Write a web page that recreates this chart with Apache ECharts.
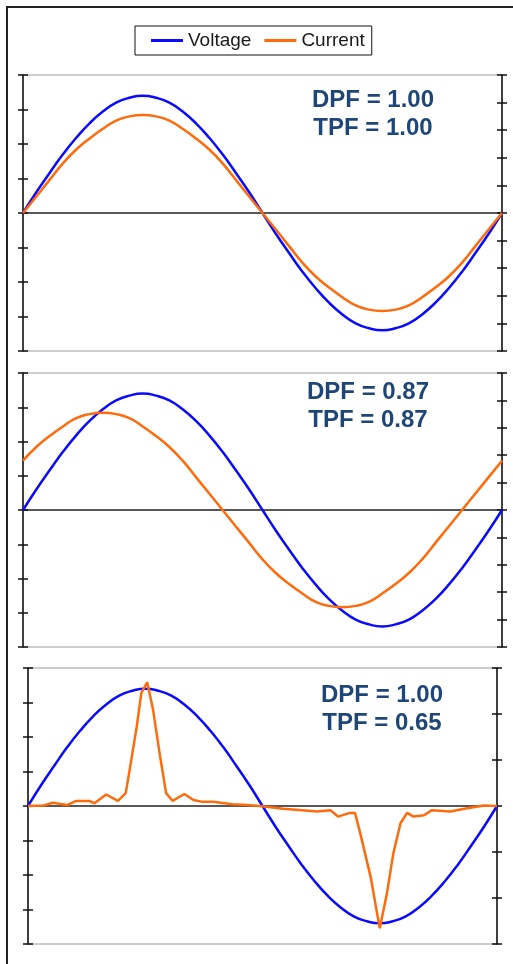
<!DOCTYPE html>
<html>
<head>
<meta charset="utf-8">
<script src="https://cdn.jsdelivr.net/npm/echarts@6/dist/echarts.min.js"></script>
<style>
  html, body { margin: 0; padding: 0; background: #fff; }
  #chart { width: 513px; height: 964px; }
</style>
</head>
<body>
<div id="chart"></div>
<script>
// Phase angle (degrees) for the sine panels, one point every 10 degrees.
var angles = [0, 10, 20, 30, 40, 50, 60, 70, 80, 90, 100, 110, 120, 130, 140, 150, 160, 170,
  180, 190, 200, 210, 220, 230, 240, 250, 260, 270, 280, 290, 300, 310, 320, 330, 340, 350, 360];

// Supply voltage (V), same in all three panels.
var voltage = [0, 30, 58, 85, 109, 130, 147, 160, 167, 170, 167, 160, 147, 130, 109, 85, 58, 30,
  0, -30, -58, -85, -109, -130, -147, -160, -167, -170, -167, -160, -147, -130, -109, -85, -58, -30, 0];

// Panel 1: resistive load, current in phase (A).
var currentInPhase = [0, 1.2, 2.4, 3.6, 4.6, 5.4, 6.1, 6.7, 7.0, 7.1, 7.0, 6.7, 6.1, 5.4, 4.6, 3.6, 2.4, 1.2,
  0, -1.2, -2.4, -3.6, -4.6, -5.4, -6.1, -6.7, -7.0, -7.1, -7.0, -6.7, -6.1, -5.4, -4.6, -3.6, -2.4, -1.2, 0];

// Panel 2: current leading by 30 degrees (A).
var currentShifted = [3.6, 4.6, 5.4, 6.1, 6.7, 7.0, 7.1, 7.0, 6.7, 6.1, 5.4, 4.6, 3.6, 2.4, 1.2, 0, -1.2, -2.4,
  -3.6, -4.6, -5.4, -6.1, -6.7, -7.0, -7.1, -7.0, -6.7, -6.1, -5.4, -4.6, -3.6, -2.4, -1.2, 0, 1.2, 2.4, 3.6];

// Panel 3: rectifier-style pulse current (A), irregular sampling.
var pulseAngles = [0, 12, 19, 30, 37, 47, 51, 60, 69, 75, 78, 83.5, 87, 91.5, 96, 101, 106, 111, 120, 127,
  134, 142, 157, 168, 178, 196, 222, 232, 238, 247, 251, 255, 263, 270, 275.5, 280.5, 286, 291, 296, 304,
  310, 324, 337, 350, 360];
var pulseCurrent = [0, 0.1, 0.7, 0.2, 1.1, 1.1, 0.6, 2.5, 1.1, 2.8, 7.8, 17.3, 24.6, 26.9, 20.9, 11.5, 2.8, 1.1, 2.6, 1.3,
  0.9, 0.9, 0.4, 0.2, 0, -0.6, -1.2, -0.9, -2.3, -1.5, -1.5, -5.9, -15.4, -26.6, -19.0, -10.2, -3.7, -1.5, -2.3, -2.0,
  -0.9, -1.2, -0.5, 0.1, 0];

var dpfLabels = ["1.00", "0.87", "1.00"];
var tpfLabels = ["1.00", "0.87", "0.65"];
var currentRanges = [10, 10, 30];
var currentSteps = [2, 2, 10];

function zip(xs, ys) {
  var out = [];
  for (var i = 0; i < xs.length; i++) out.push([xs[i], ys[i]]);
  return out;
}

var currentData = [
  zip(angles, currentInPhase),
  zip(angles, currentShifted),
  zip(pulseAngles, pulseCurrent)
];

// Plot-area placement of the three stacked panels.
var layout = [
  { top: 75, height: 276, left: 23, right: 11, textX: 373, textY: 100 },
  { top: 373, height: 274, left: 23, right: 11, textX: 368, textY: 392 },
  { top: 668, height: 276, left: 28, right: 16, textX: 382, textY: 695 }
];

var BLUE = "#0a0aff";
var ORANGE = "#ff6a0a";
var TEXT = "#1f4679";
var FONT = '"Liberation Sans", Arial, sans-serif';

function yAxis(grid, side, max, step, inner) {
  return {
    type: "value",
    gridIndex: grid,
    position: side,
    min: -max,
    max: max,
    interval: step,
    axisLine: { show: !inner, onZero: false, lineStyle: { color: "#111", width: 1.5 } },
    axisTick: { show: true, inside: inner, length: 5, lineStyle: { color: "#111", width: 1.5 } },
    axisLabel: { show: false },
    splitLine: { show: false }
  };
}

var grids = [], xAxes = [], yAxes = [], series = [], graphics = [];

for (var p = 0; p < 3; p++) {
  var L = layout[p];
  grids.push({
    top: L.top, height: L.height, left: L.left, right: L.right,
    show: true, borderColor: "#9a9a9a", borderWidth: 1
  });
  xAxes.push({
    type: "value", gridIndex: p, min: 0, max: 360,
    axisLine: { onZero: true, lineStyle: { color: "#222", width: 1.5 } },
    axisTick: { show: false }, axisLabel: { show: false }, splitLine: { show: false }
  });
  var base = yAxes.length;
  // left voltage axis and right current axis, each drawn twice so ticks cross the line
  yAxes.push(yAxis(p, "left", 200, 50, false));
  yAxes.push(yAxis(p, "left", 200, 50, true));
  yAxes.push(yAxis(p, "right", currentRanges[p], currentSteps[p], false));
  yAxes.push(yAxis(p, "right", currentRanges[p], currentSteps[p], true));

  series.push({
    name: "Voltage", type: "line", xAxisIndex: p, yAxisIndex: base,
    data: zip(angles, voltage), smooth: true, symbol: "none", color: BLUE,
    lineStyle: { width: 2.5, color: BLUE }, z: 3
  });
  series.push({
    name: "Current", type: "line", xAxisIndex: p, yAxisIndex: base + 2,
    data: currentData[p], smooth: p < 2, symbol: "none", color: ORANGE,
    lineStyle: { width: 2.5, color: ORANGE }, z: 4
  });

  graphics.push({
    type: "text", x: L.textX, y: L.textY,
    style: { text: "DPF = " + dpfLabels[p], font: "bold 24px " + FONT, fill: TEXT,
      textAlign: "center", textVerticalAlign: "middle" }
  });
  graphics.push({
    type: "text", x: L.textX, y: L.textY + 28.5,
    style: { text: "TPF = " + tpfLabels[p], font: "bold 24px " + FONT, fill: TEXT,
      textAlign: "center", textVerticalAlign: "middle" }
  });
}

// outer frame, only its left and top edges fall inside the picture
graphics.push({
  type: "rect", shape: { x: 7, y: 7, width: 600, height: 1000 },
  style: { fill: null, stroke: "#222", lineWidth: 2 }, silent: true
});

var chart = echarts.init(document.getElementById("chart"));
chart.setOption({
  animation: false,
  backgroundColor: "#fff",
  legend: {
    data: ["Voltage", "Current"],
    left: 135, top: 26,
    padding: [5, 7, 5, 16],
    icon: "rect", itemWidth: 32, itemHeight: 3, itemGap: 13,
    borderColor: "#111", borderWidth: 1,
    textStyle: { fontSize: 19, color: "#1a1a1a", fontFamily: FONT }
  },
  grid: grids,
  xAxis: xAxes,
  yAxis: yAxes,
  series: series,
  graphic: graphics
});
</script>
</body>
</html>
